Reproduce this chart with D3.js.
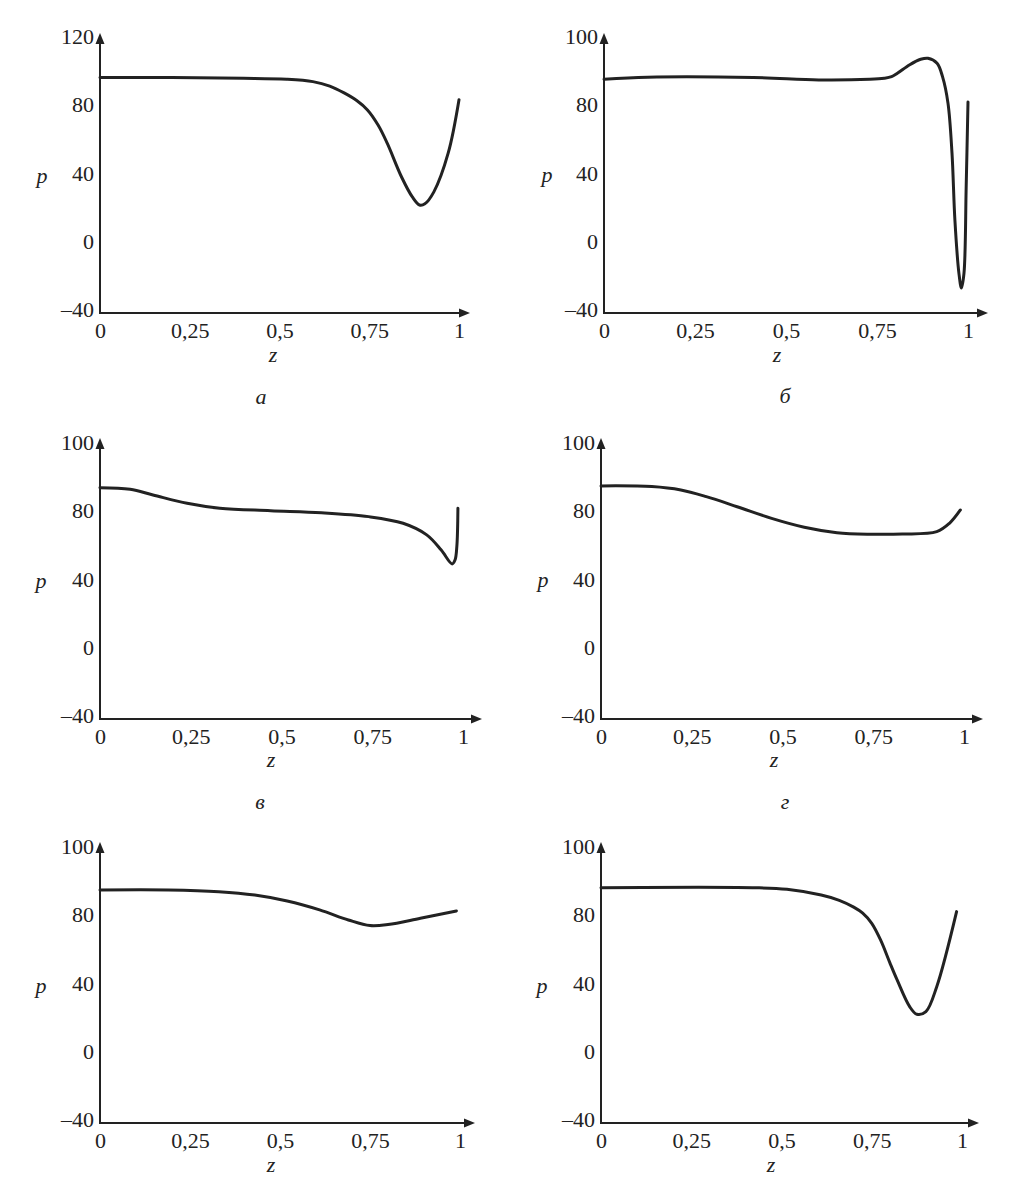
<!DOCTYPE html>
<html><head><meta charset="utf-8">
<script src="https://cdn.jsdelivr.net/npm/d3@7"></script>
<style>
body{margin:0;background:#fff}
text{font-family:"Liberation Serif","Times New Roman",serif;fill:#222}
</style>
</head><body>
<svg id="c" width="1011" height="1194"></svg>
<script>
// ---------- data ----------
const xTickValues = [0, 0.25, 0.5, 0.75, 1];
const xTickLabels = ["0", "0,25", "0,5", "0,75", "1"];
const yTickValues = [-40, 0, 40, 80, 120];
const yTickLabelsA = ["–40", "0", "40", "80", "120"];
const yTickLabelsRest = ["–40", "0", "40", "80", "100"];
const captions = ["а", "б", "в", "г", "", ""];
const axisLabelY = "p";
const axisLabelX = "z";

const zA = [0, 0.2, 0.4, 0.52, 0.593, 0.64, 0.68, 0.715, 0.745, 0.775, 0.80, 0.84, 0.87, 0.89, 0.905, 0.93, 0.97, 1.0];
const pA = [98, 98, 97.6, 97, 95.6, 93, 89, 84.5, 79, 70, 59.5, 39.7, 28, 23.3, 24, 31, 53.8, 85];

const zB = [0, 0.12, 0.41, 0.59, 0.73, 0.77, 0.79, 0.806, 0.84, 0.87, 0.89, 0.915, 0.93, 0.945, 0.956, 0.964, 0.975, 0.982, 0.989, 0.995, 1.0];
const pB = [97, 98.2, 98, 96.6, 97, 97.6, 98.5, 100.5, 105.5, 108.7, 109.3, 106.4, 98.5, 83, 53.8, 14.5, -16.6, -25.3, -16.6, 34, 83.7];

const zV = [0, 0.083, 0.146, 0.24, 0.33, 0.47, 0.61, 0.74, 0.835, 0.90, 0.94, 0.97, 0.978, 0.983, 0.986];
const pV = [95.6, 94.6, 91.3, 86.4, 83.5, 82.1, 80.9, 78.6, 74.7, 67.9, 59, 50.9, 53.2, 61, 83.5];

const zG = [0, 0.14, 0.22, 0.29, 0.375, 0.47, 0.56, 0.65, 0.74, 0.83, 0.925, 0.96, 0.99];
const pG = [96.6, 96.2, 94.2, 90.3, 84.4, 77.6, 72.4, 69.2, 68.3, 68.4, 69.8, 74.7, 82.5];

const zD = [0, 0.19, 0.33, 0.43, 0.52, 0.61, 0.69, 0.75, 0.80, 0.89, 0.99];
const pD = [96.6, 96.6, 95.6, 93.6, 90.1, 84.9, 79, 75.7, 76.3, 80, 84.3];

const zE = [0, 0.42, 0.515, 0.61, 0.66, 0.70, 0.725, 0.75, 0.775, 0.80, 0.82, 0.855, 0.875, 0.9, 0.93, 0.985];
const pE = [97.9, 97.9, 97, 93.6, 90.5, 86.5, 83, 77, 67, 54, 44, 28.2, 23.7, 25.3, 39.9, 83.9];

const seriesZ = [zA, zB, zV, zG, zD, zE];
const seriesP = [pA, pB, pV, pG, pD, pE];

// ---------- layout ----------
const panels = [
  {x0:100, x1:459, yBot:313, yTop:40, aTop:33, aRight:470, pX:42, pY:180, zX:273, zY:357, cX:261, cY:398},
  {x0:604, x1:968, yBot:313, yTop:40, aTop:33, aRight:988, pX:547, pY:179, zX:777, zY:357, cX:785, cY:397},
  {x0:100, x1:463, yBot:719, yTop:446, aTop:438, aRight:482, pX:41, pY:585, zX:271, zY:762, cX:260, cY:803},
  {x0:601, x1:964, yBot:719, yTop:446, aTop:438, aRight:983, pX:543, pY:584, zX:774, zY:762, cX:785, cY:803},
  {x0:100, x1:460, yBot:1123, yTop:850, aTop:842, aRight:475, pX:41, pY:990, zX:271, zY:1167},
  {x0:601, x1:962, yBot:1123, yTop:850, aTop:842, aRight:979, pX:542, pY:990, zX:771, zY:1167}
];

const svg = d3.select("#c");
const ink = "#222";

panels.forEach((P, i) => {
  const g = svg.append("g");
  const x = d3.scaleLinear().domain([0, 1]).range([P.x0, P.x1]);
  const y = d3.scaleLinear().domain([-40, 120]).range([P.yBot, P.yTop]);
  const yLabels = i === 0 ? yTickLabelsA : yTickLabelsRest;

  // y tick labels
  const ya = d3.axisLeft(y).tickValues(yTickValues).tickSize(0).tickPadding(6)
    .tickFormat((d, k) => yLabels[k]);
  const yg = g.append("g").attr("transform", `translate(${P.x0},0)`).call(ya);
  yg.select(".domain").remove();
  yg.selectAll("text").attr("font-size", 22)
    .attr("fill", ink).attr("dy", "0.25em").attr("y", -2);

  // x tick labels
  const xa = d3.axisBottom(x).tickValues(xTickValues).tickSize(0).tickPadding(9)
    .tickFormat((d, k) => xTickLabels[k]);
  const xg = g.append("g").attr("transform", `translate(0,${P.yBot})`).call(xa);
  xg.select(".domain").remove();
  xg.selectAll("text").attr("font-size", 22).attr("fill", ink);

  // axes lines with arrows
  g.append("line").attr("x1", P.x0).attr("x2", P.x0).attr("y1", P.yBot + 1).attr("y2", P.aTop + 6)
    .attr("stroke", ink).attr("stroke-width", 2);
  g.append("line").attr("x1", P.x0 - 1).attr("x2", P.aRight - 6).attr("y1", P.yBot).attr("y2", P.yBot)
    .attr("stroke", ink).attr("stroke-width", 2);
  g.append("path").attr("d", `M${P.x0},${P.aTop} L${P.x0 - 4.5},${P.aTop + 11} L${P.x0 + 4.5},${P.aTop + 11} Z`)
    .attr("fill", ink);
  g.append("path").attr("d", `M${P.aRight},${P.yBot} L${P.aRight - 11},${P.yBot - 4.5} L${P.aRight - 11},${P.yBot + 4.5} Z`)
    .attr("fill", ink);

  // curve
  const pts = seriesZ[i].map((z, k) => [z, seriesP[i][k]]);
  const line = d3.line().x(d => x(d[0])).y(d => y(d[1])).curve(d3.curveCatmullRom.alpha(0.5));
  g.append("path").datum(pts).attr("d", line).attr("fill", "none")
    .attr("stroke", ink).attr("stroke-width", 3).attr("stroke-linejoin", "round").attr("stroke-linecap", "round");

  // axis names
  g.append("text").attr("x", P.pX).attr("y", P.pY + 3).attr("text-anchor", "middle")
    .attr("font-size", 22).attr("font-style", "italic").text(axisLabelY);
  g.append("text").attr("x", P.zX).attr("y", P.zY + 5).attr("text-anchor", "middle")
    .attr("font-size", 22).attr("font-style", "italic").text(axisLabelX);

  if (captions[i]) {
    g.append("text").attr("x", P.cX).attr("y", P.cY + 6).attr("text-anchor", "middle")
      .attr("font-size", 22).attr("font-style", "italic").text(captions[i]);
  }
});
</script>
</body></html>
